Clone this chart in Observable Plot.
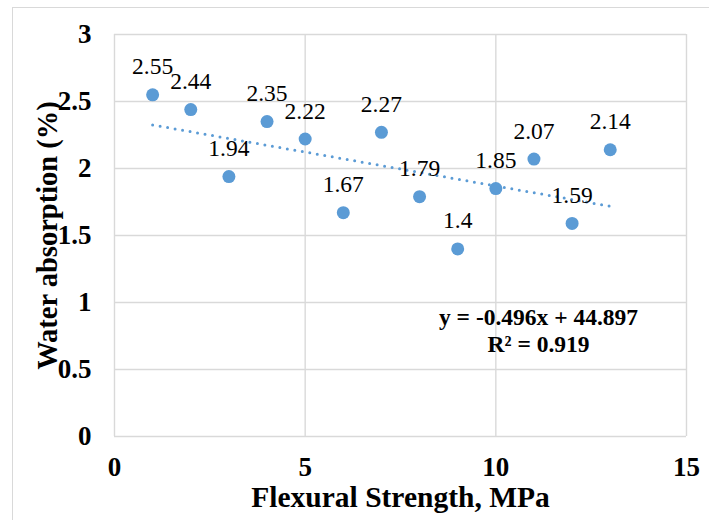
<!DOCTYPE html>
<html>
<head>
<meta charset="utf-8">
<script src="https://cdn.jsdelivr.net/npm/d3@7"></script>
<script src="https://cdn.jsdelivr.net/npm/@observablehq/plot@0.6"></script>
<style>
  html, body { margin: 0; padding: 0; background: #fff; overflow: hidden; }
  #wrap { position: relative; width: 709px; height: 520px; }
  #frame { position: absolute; left: 12px; top: 7px; width: 900px; height: 700px; border: 1.5px solid #d9d9d9; box-sizing: border-box; }
  #chart { position: absolute; left: 0; top: 0; }
  #chart svg, #chart svg text { font-family: "Liberation Serif", "Times New Roman", serif !important; }
</style>
</head>
<body>
<div id="wrap"><div id="frame"></div><div id="chart"></div></div>
<script>
const strength = [1, 2, 3, 4, 5, 6, 7, 8, 9, 10, 11, 12, 13];
const absorption = [2.55, 2.44, 1.94, 2.35, 2.22, 1.67, 2.27, 1.79, 1.4, 1.85, 2.07, 1.59, 2.14];
const xTicks = [0, 5, 10, 15];
const yTicks = [0, 0.5, 1, 1.5, 2, 2.5, 3];
const equationLines = ["y = -0.496x + 44.897", "R² = 0.919"];
const xTitle = "Flexural Strength, MPa";
const yTitle = "Water absorption (%)";

const data = strength.map((x, i) => ({x, y: absorption[i]}));
const blue = "#5B9BD5";
const grid = "#d9d9d9";
const ff = "Liberation Serif";

const chart = Plot.plot({
  width: 709,
  height: 520,
  marginLeft: 114,
  marginTop: 34,
  marginRight: 23,
  marginBottom: 84,
  style: {fontFamily: ff, background: "transparent", color: "#000"},
  x: {domain: [0, 15]},
  y: {domain: [0, 3]},
  marks: [
    Plot.gridX(xTicks, {stroke: grid, strokeOpacity: 1, strokeWidth: 1.4}),
    Plot.gridY(yTicks, {stroke: grid, strokeOpacity: 1, strokeWidth: 1.4}),
    Plot.axisX(xTicks, {tickSize: 0, tickPadding: 20, fontSize: 27, fontWeight: "bold", fontFamily: ff, label: null, fill: "#000", tickFormat: d => String(d)}),
    Plot.axisY(yTicks, {tickSize: 0, tickPadding: 23, fontSize: 27, fontWeight: "bold", fontFamily: ff, label: null, fill: "#000", tickFormat: d => String(d)}),
    Plot.linearRegressionY(data, {x: "x", y: "y", ci: 0, stroke: blue, strokeWidth: 3, strokeDasharray: "0,7.6", strokeLinecap: "round"}),
    Plot.dot(data, {x: "x", y: "y", r: 6.5, fill: blue, stroke: null}),
    Plot.text(data, {x: "x", y: "y", text: d => String(d.y), dy: -28, fontSize: 23.5, fontFamily: ff, fill: "#000", lineAnchor: "middle"}),
    Plot.text([equationLines.join("\n")], {x: 11.12, y: 0.795, fontSize: 23.5, fontWeight: "bold", fontFamily: ff, fill: "#000", lineAnchor: "middle", lineHeight: 1.15}),
    Plot.text([xTitle], {frameAnchor: "bottom", textAnchor: "middle", dy: 61, fontSize: 29.5, fontWeight: "bold", fontFamily: ff, fill: "#000", lineAnchor: "middle"}),
    Plot.text([yTitle], {frameAnchor: "left", textAnchor: "middle", dx: -67, rotate: -90, fontSize: 28.5, fontWeight: "bold", fontFamily: ff, fill: "#000", lineAnchor: "middle"})
  ]
});
document.getElementById("chart").appendChild(chart);
</script>
</body>
</html>
